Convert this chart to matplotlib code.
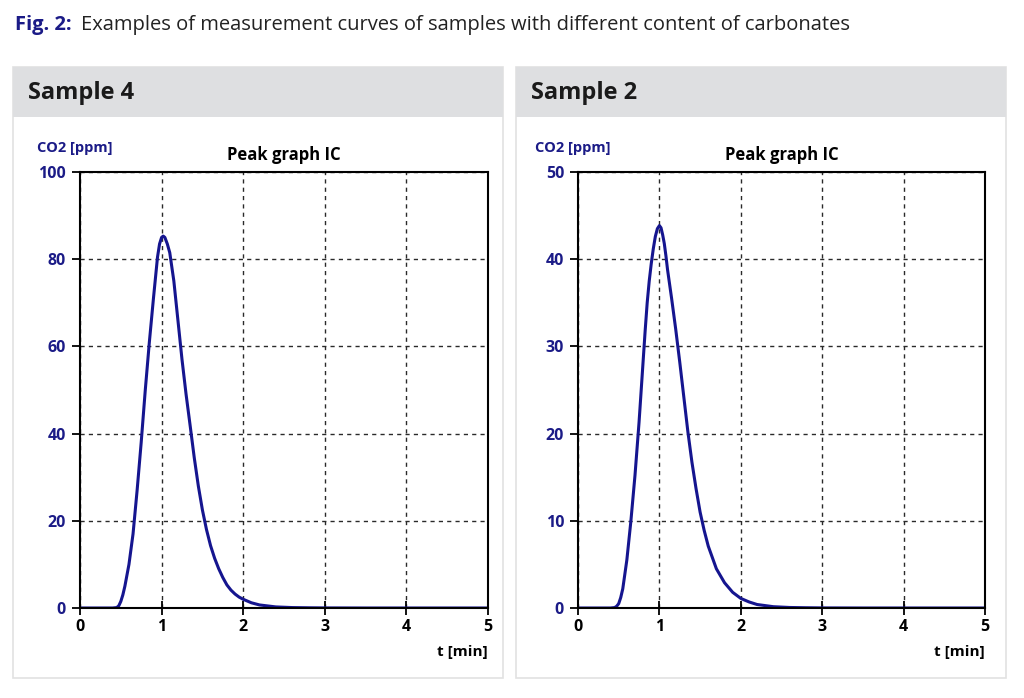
import matplotlib
matplotlib.use("Agg")
import matplotlib.pyplot as plt
from matplotlib.patches import Rectangle

#----------DATA--------
#Time axis in minutes
t_s4=[0.00,0.40,0.45,0.475,0.50,0.525,0.55,0.60,0.65,0.70,0.75,0.80,0.85,0.90,0.95,0.975,1.00,1.02,1.04,1.07,
      1.10,1.15,1.20,1.25,1.30,1.35,1.40,1.45,1.50,1.55,1.60,1.65,1.70,1.75,1.80,1.85,1.90,1.95,2.00,2.10,
      2.20,2.40,2.60,2.80,3.00,3.50,5.00]
#CO2 in ppm, sample 4
co2_s4=[0,0,0.1,0.5,1.5,3,5,10,17,27,38,50,61,71,80.5,83.5,85,85.3,85,83.5,
        81.5,75,66,57,49,41.8,34.5,28,22.5,18,14.3,11.4,9,7,5.3,4.1,3.2,2.5,2.0,1.2,
        0.7,0.25,0.1,0.05,0.02,0,0]
t_s2=[0.00,0.40,0.45,0.475,0.50,0.525,0.55,0.60,0.65,0.70,0.75,0.80,0.825,0.85,0.875,0.90,0.925,0.95,0.975,1.00,
      1.02,1.04,1.06,1.08,1.10,1.15,1.20,1.25,1.30,1.35,1.40,1.45,1.50,1.55,1.60,1.70,1.80,1.90,2.00,2.10,
      2.20,2.40,2.60,2.80,3.00,3.50,5.00]
#CO2 in ppm, sample 2
co2_s2=[0,0,0.05,0.2,0.5,1.2,2.2,5.5,10,15.2,21.3,28.3,31.8,35,37.5,39.5,41.2,42.6,43.5,43.85,
        43.6,42.8,41.8,40.4,38.8,35.5,32,28.2,24.2,20.2,16.7,13.7,11,8.9,7.1,4.5,2.9,1.8,1.1,0.7,
        0.4,0.15,0.06,0.03,0.01,0,0]

panel_titles=["Sample 4","Sample 2"]
y_max=[100,50]
y_ticks=[[0,20,40,60,80,100],[0,10,20,30,40,50]]
x_ticks=[0,1,2,3,4,5]

navy="#1b1b87"
line_col="#15158f"

plt.rcParams['font.family']=['Open Sans','DejaVu Sans']

W,H=1024,698
fig=plt.figure(figsize=(W/100,H/100),dpi=100)

#Figure caption
fig.text(15/W,1-25/H,"Fig. 2:",color=navy,fontsize=14.5,fontweight="bold",va="center",ha="left")
fig.text(81/W,1-25/H,"Examples of measurement curves of samples with different content of carbonates",
         color="#222222",fontsize=14.5,va="center",ha="left")

#Panel boxes (left, right in pixels)
panels=[(13,503),(516,1006)]
axes_x=[(80,488),(578,985)]
top,head_bot,bottom=67,117,678
ax_top,ax_bot=172,608

for i in range(2):
    pl,pr=panels[i]
    fig.add_artist(Rectangle((pl/W,1-bottom/H),(pr-pl)/W,(bottom-top)/H,transform=fig.transFigure,
                             facecolor="white",edgecolor="#e2e2e2",lw=1.2,zorder=-5))
    fig.add_artist(Rectangle((pl/W,1-head_bot/H),(pr-pl)/W,(head_bot-top)/H,transform=fig.transFigure,
                             facecolor="#dedfe1",edgecolor="none",zorder=-4))
    fig.text((pl+15)/W,1-93/H,panel_titles[i],fontsize=17,fontweight="bold",color="#1a1a1a",
             va="center",ha="left")
    xl,xr=axes_x[i]
    ax=fig.add_axes([xl/W,1-ax_bot/H,(xr-xl)/W,(ax_bot-ax_top)/H])
    ax.set_facecolor("white")
    if i==0:
        ax.plot(t_s4,co2_s4,color=line_col,lw=2.2,solid_joinstyle="round")
    else:
        ax.plot(t_s2,co2_s2,color=line_col,lw=2.2,solid_joinstyle="round")
    ax.set_xlim(0,5)
    ax.set_ylim(0,y_max[i])
    ax.set_xticks(x_ticks)
    ax.set_yticks(y_ticks[i])
    ax.grid(True,color="#2a2a2a",linestyle=(0,(3,3)),lw=1.0)
    for s in ax.spines.values():
        s.set_linewidth(1.5)
        s.set_color("black")
    ax.tick_params(axis="y",direction="out",length=6,width=1.3,labelsize=11.5,labelcolor=navy,pad=4)
    ax.tick_params(axis="x",direction="inout",length=10,width=1.3,labelsize=11.5,labelcolor="black",pad=3)
    for lab in ax.get_yticklabels()+ax.get_xticklabels():
        lab.set_fontweight("bold")
    ax.set_title("Peak graph IC",fontsize=12,fontweight="bold",pad=9)
    fig.text((xl-43)/W,1-148/H,"CO2 [ppm]",color=navy,fontsize=10.5,fontweight="bold",va="center",ha="left")
    fig.text(xr/W,1-652/H,"t [min]",color="black",fontsize=11,fontweight="bold",va="center",ha="right")

plt.savefig("out.png",dpi=100)
plt.close()
